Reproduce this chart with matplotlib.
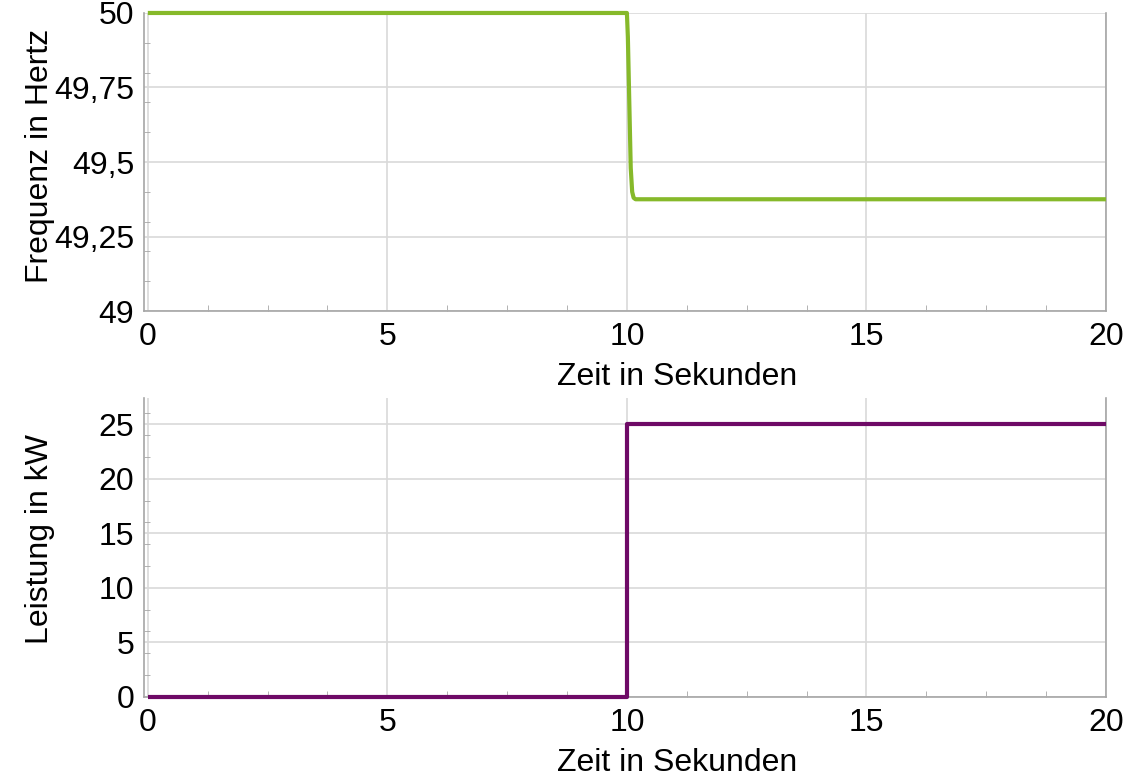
import matplotlib.pyplot as plt
from matplotlib.ticker import MultipleLocator, FixedLocator

plt.rcParams['font.family'] = ['Liberation Sans', 'DejaVu Sans']

# Frequenzverlauf nach dem Lastsprung bei t = 10 s
zeit_f = [0, 10.0, 10.02, 10.05, 10.08, 10.11, 10.14, 10.18, 20]
frequenz = [50, 50, 49.92, 49.7, 49.48, 49.40, 49.38, 49.375, 49.375]

# Leistungssprung
zeit_p = [0, 10.0, 10.0, 20]
leistung = [0, 0, 25, 25]

f_ticks = [49, 49.25, 49.5, 49.75, 50]
f_labels = ['49', '49,25', '49,5', '49,75', '50']
p_ticks = [0, 5, 10, 15, 20, 25]
t_ticks = [0, 5, 10, 15, 20]

gruen = '#86b92a'
lila = '#6e0a66'
grid_c = '#d9d9d9'
spine_c = '#a6a6a6'
fs = 23

fig = plt.figure(figsize=(11.41, 7.77), dpi=100)
ax1 = fig.add_axes([0.1262, 0.5997, 0.8431, 0.3836])
ax2 = fig.add_axes([0.1262, 0.1030, 0.8431, 0.3848])


def style(ax):
    ax.set_xlim(-0.08, 20)
    ax.xaxis.set_major_locator(FixedLocator(t_ticks))
    ax.xaxis.set_minor_locator(MultipleLocator(1.25))
    ax.grid(True, which='major', color=grid_c, linewidth=1.2)
    ax.set_axisbelow(True)
    ax.spines['top'].set_visible(False)
    for s in ['left', 'bottom', 'right']:
        ax.spines[s].set_color(spine_c)
        ax.spines[s].set_linewidth(1.2)
    ax.tick_params(which='major', length=0, labelsize=fs)
    ax.tick_params(axis='x', which='major', pad=8)
    ax.tick_params(axis='y', which='major', pad=7)
    ax.tick_params(which='minor', direction='in', length=4, color=spine_c)
    ax.set_xlabel('Zeit in Sekunden', fontsize=fs, labelpad=7)
    ax.xaxis.label.set_x(0.554)


style(ax1)
ax1.plot(zeit_f, frequenz, color=gruen, linewidth=3, clip_on=False,
         solid_joinstyle='round', solid_capstyle='butt', zorder=3)
ax1.set_ylim(49, 50)
ax1.set_yticks(f_ticks)
ax1.set_yticklabels(f_labels)
ax1.yaxis.set_minor_locator(MultipleLocator(0.1))
ax1.set_ylabel('Frequenz in Hertz', fontsize=fs)
ax1.yaxis.set_label_coords(-0.092, 0.52)

style(ax2)
ax2.plot(zeit_p, leistung, color=lila, linewidth=3, clip_on=False,
         solid_capstyle='butt', zorder=3)
ax2.set_ylim(0, 27.4)
ax2.set_yticks(p_ticks)
ax2.yaxis.set_minor_locator(MultipleLocator(2))
ax2.set_ylabel('Leistung in kW', fontsize=fs)
ax2.yaxis.set_label_coords(-0.092, 0.53)

fig.savefig('out.png', dpi=100)
